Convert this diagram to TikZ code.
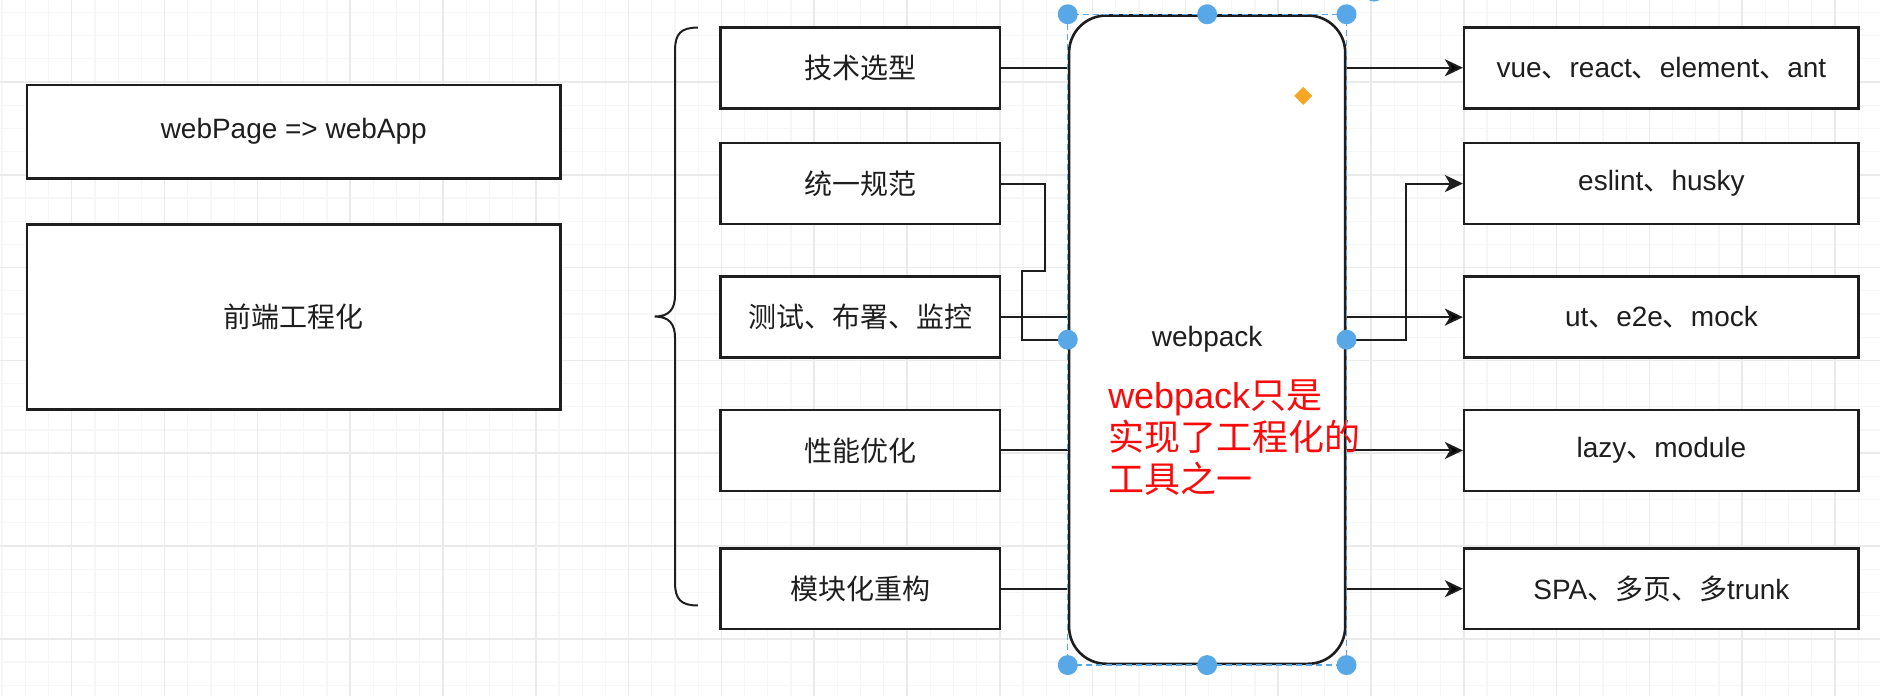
\documentclass[tikz,border=0pt]{standalone}
\usepackage{fontspec}
\setmainfont{Liberation Sans}
\newfontfamily\cjk{Noto Sans CJK SC}
\usetikzlibrary{positioning, arrows, arrows.meta}
\definecolor{ink}{RGB}{30,30,30}
\definecolor{selblue}{RGB}{88,168,232}
\definecolor{knob}{RGB}{245,166,35}
\definecolor{notered}{RGB}{250,10,10}
\definecolor{gridmajor}{RGB}{234,234,234}
\definecolor{gridminor}{RGB}{246,246,246}

\begin{document}
\begin{tikzpicture}[x=0.6pt, y=-0.6pt,
    >={Stealth[length=9pt, width=8.5pt, inset=2.5pt]},
    box/.style={draw=ink, line width=1.3pt, fill=white, inner sep=0pt, text=ink,
        font=\fontsize{14}{16}\selectfont},
    item/.style={box, minimum width=139.8pt, minimum height=40.5pt},
    tool/.style={box, minimum width=197.4pt, minimum height=40.5pt},
    link/.style={draw=ink, line width=1pt}]
\useasboundingbox (0,0) rectangle (1568,580.5);
\fill[white] (0,0) rectangle (1568,580.5);

% grid
\foreach \i in {0,...,80} \draw[gridminor, line width=0.6pt] ({1.75+19.35*\i},0) -- ({1.75+19.35*\i},580.5);
\foreach \i in {0,...,29} \draw[gridminor, line width=0.6pt] (0,{10.35+19.35*\i}) -- (1568,{10.35+19.35*\i});
\foreach \i in {0,...,19} \draw[gridmajor, line width=0.8pt] ({59.8+77.4*\i},0) -- ({59.8+77.4*\i},580.5);
\foreach \i in {0,...,6} \draw[gridmajor, line width=0.8pt] (0,{68.4+77.4*\i}) -- (1568,{68.4+77.4*\i});

\node[box, minimum width=267pt, minimum height=46.6pt] (page) at (245,109.8) {webPage => webApp};
\node[box, minimum width=267pt, minimum height=92.8pt] (fe) at (245,264.4) {\cjk 前端工程化};

\draw[link] (582,23) .. controls (568,23) and (563,28) .. (563,42) -- (563,246)
    .. controls (563,258) and (558,264) .. (546,264)
    .. controls (558,264) and (563,270) .. (563,282) -- (563,486)
    .. controls (563,500) and (568,505) .. (582,505);

\node[item] (t1) at (717.5,56.5) {\cjk 技术选型};
\node[item] (t2) at (717.5,153.1) {\cjk 统一规范};
\node[item] (t3) at (717.5,264.5) {\cjk 测试、布署、监控};
\node[item] (t4) at (717.5,375.7) {\cjk 性能优化};
\node[item] (t5) at (717.5,491) {\cjk 模块化重构};

\node[tool, right=231pt of t1] (r1) {vue{\cjk 、}react{\cjk 、}element{\cjk 、}ant};
\node[tool, right=231pt of t2] (r2) {eslint{\cjk 、}husky};
\node[tool, right=231pt of t3] (r3) {ut{\cjk 、}e2e{\cjk 、}mock};
\node[tool, right=231pt of t4] (r4) {lazy{\cjk 、}module};
\node[tool, right=231pt of t5] (r5) {SPA{\cjk 、多页、多}trunk};

\node[box, rounded corners=18.6pt, minimum width=138.2pt, minimum height=324.4pt] (wp) at (1006.8,283.3) {webpack};

\coordinate (k1) at (871.6,225.8);
\coordinate (k2) at (852.7,225.8);

\draw[link]
    (t1) -- (t1 -| wp.west)
    (t3) -- (t3 -| wp.west)
    (t4) -- (t4 -| wp.west)
    (t5) -- (t5 -| wp.west)
    (wp.east |- r1) edge[->] (r1)
    (wp.east |- r3) edge[->] (r3)
    (wp.east |- r4) edge[->] (r4)
    (wp.east |- r5) edge[->] (r5)
    ;
\draw[link] (t2.east) -| (k1) -- (k2) |- (wp.west);
\draw[link, ->] (wp.east) -- ++(50,0) |- (r2.west);

\node[anchor=base west, align=left, inner sep=0pt, text=notered,
    font=\fontsize{18}{21}\selectfont] (note) at (924,410.4)
    {webpack{\cjk 只是}\\{\cjk 实现了工程化的}\\{\cjk 工具之一}};

% selection
\draw[selblue, line width=0.7pt, dash pattern=on 3pt off 2pt] (wp.north west) rectangle (wp.south east);
\foreach \a in {north west, north, north east, west, east, south west, south, south east}
    \fill[selblue] (wp.\a) circle (5pt);
\fill[selblue] (1146,-7) circle (5pt);
\fill[knob] (1087,72.5) -- (1094.5,80) -- (1087,87.5) -- (1079.5,80) -- cycle;
\end{tikzpicture}
\end{document}
